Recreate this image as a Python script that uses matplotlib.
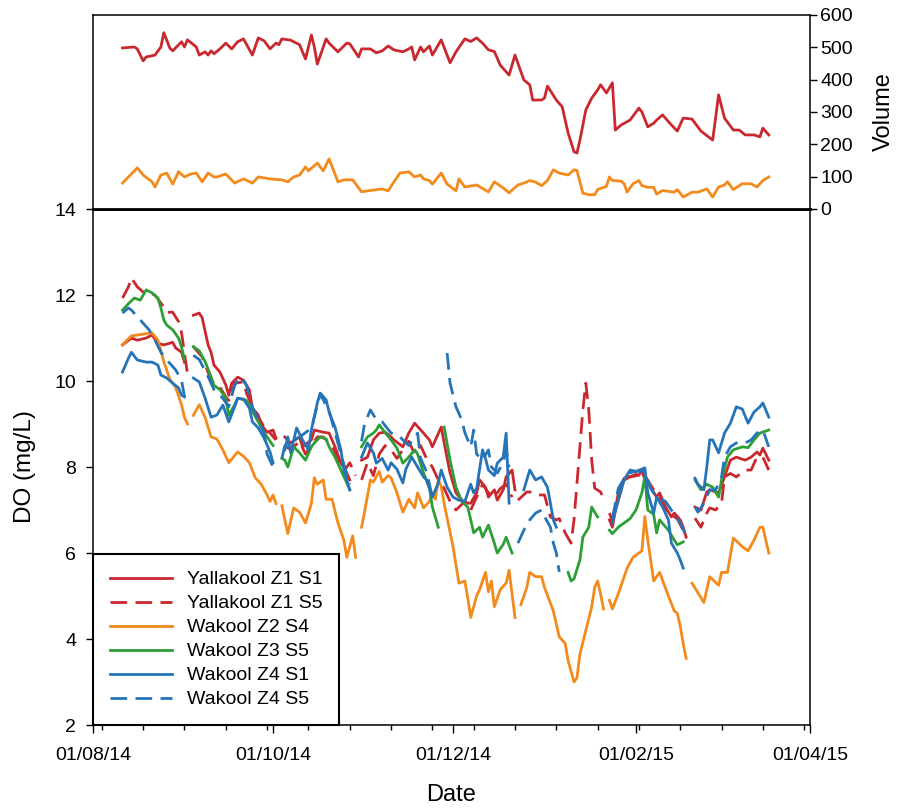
import datetime as dt
import numpy as np
import matplotlib
matplotlib.use("Agg")
import matplotlib.pyplot as plt
import matplotlib.dates as mdates
from matplotlib.ticker import FixedLocator

plt.rcParams['font.family'] = ['Liberation Sans', 'DejaVu Sans']

START = dt.datetime(2014, 8, 1)

# ---- top panel: volume, days since 01/08/14 ----
vol_red_day = [10, 14, 15, 17, 18, 21, 23, 24, 26, 27, 30, 31, 32, 35, 36, 38, 39, 40, 41, 43,
               45, 47, 49, 51, 54, 56, 58, 60, 62, 63, 64, 67, 70, 72, 74, 75, 76, 79, 80, 83,
               86, 87, 90, 91, 94, 96, 98, 100, 102, 105, 107, 108, 109, 111, 112, 114, 115, 118, 121, 123,
               126, 128, 130, 132, 134, 136, 138, 141, 143, 146, 148, 149, 152, 153, 154, 157, 159, 161, 163, 164,
               165, 167, 169, 171, 172, 174, 176, 177, 179, 182, 185, 186, 188, 190, 191, 193, 196, 198, 200, 203,
               206, 210, 212, 214, 217, 219, 221, 224, 226, 227, 229]
vol_red = [498, 501, 495, 458, 470, 476, 501, 545, 498, 489, 517, 501, 523, 501, 476, 486, 476, 489, 480, 495,
           513, 495, 517, 526, 476, 529, 520, 495, 513, 508, 526, 522, 508, 464, 538, 501, 448, 526, 513, 486,
           513, 511, 470, 495, 495, 483, 489, 504, 492, 486, 495, 501, 461, 501, 486, 504, 476, 523, 452, 486,
           526, 518, 529, 513, 492, 487, 445, 414, 476, 399, 384, 337, 337, 343, 380, 337, 316, 235, 177, 173,
           213, 306, 343, 368, 384, 359, 390, 244, 260, 275, 312, 300, 254, 265, 275, 291, 260, 241, 281, 278,
           241, 213, 353, 281, 244, 244, 229, 229, 223, 250, 229]

vol_orange_day = [10, 12, 15, 17, 20, 21, 23, 25, 27, 29, 31, 33, 35, 37, 39, 41, 42, 45, 48, 51,
                  54, 56, 60, 64, 66, 68, 70, 72, 73, 76, 78, 80, 83, 85, 88, 91, 93, 98, 100, 102,
                  104, 107, 109, 111, 112, 114, 115, 118, 120, 123, 124, 126, 130, 134, 136, 139, 141, 144, 146, 148,
                  150, 152, 154, 156, 158, 161, 163, 164, 165, 166, 168, 170, 171, 174, 175, 176, 179, 180, 181, 183,
                  185, 186, 188, 190, 191, 193, 197, 198, 200, 203, 205, 208, 210, 212, 214, 215, 217, 220, 223, 225,
                  227, 229]
vol_orange = [80, 99, 127, 105, 84, 68, 105, 111, 77, 115, 99, 108, 111, 84, 111, 99, 99, 108, 80, 93,
              80, 99, 93, 90, 84, 99, 105, 130, 118, 142, 118, 155, 84, 90, 90, 53, 56, 62, 56, 84,
              111, 115, 99, 105, 93, 88, 77, 111, 77, 56, 93, 68, 74, 53, 84, 65, 50, 74, 80, 88,
              83, 72, 88, 121, 111, 105, 121, 119, 84, 49, 44, 44, 60, 70, 99, 88, 86, 78, 52, 78,
              88, 72, 67, 67, 46, 57, 52, 60, 37, 52, 52, 62, 37, 68, 74, 84, 60, 78, 78, 68,
              88, 99]

# ---- bottom panel: DO (mg/L), days since 01/08/14, None = no data ----
yk_s1_day = [10, 13, 15, 18, 20, 22, 24, 27, 28, 30, 31, None,
             34, 36, 37, 39, 40, 41, 43, 45, 46, 47, 49, 51, 53, 54, 56, 57, 59, 61, 62, None,
             65, 67, 70, 71, 74, 75, 78, 80, 82, 84, 86, 87, None,
             91, 93, 95, 97, 99, 101, 102, 105, 107, 109, 112, 114, 115, 118, 119, 121, 123, 125, 127, 128,
             130, 131, 133, 134, 136, 137, 139, 140, 142, 143, None,
             175, 176, 178, 180, 182, 185, 186, 187, 189, 191, 192, 194, 196, 197, 199, 200, 201, None,
             204, 206, 208, 209, 212, 214, 216, 218, 221, 223, 225, 226, 227, 229]
yk_s1 = [10.84, 11.0, 10.95, 11.0, 11.07, 10.88, 10.84, 10.9, 10.77, 10.67, 10.44, None,
         11.53, 11.58, 11.47, 10.84, 10.67, 10.37, 10.21, 9.91, 9.67, 9.95, 10.09, 10.02, 9.79, 9.37, 9.21, 8.98, 8.81, 8.86, 8.67, None,
         8.7, 8.56, 8.7, 8.47, 8.63, 8.86, 8.81, 8.79, 8.47, 8.09, 7.86, 7.7, None,
         8.16, 8.23, 8.63, 8.79, 8.81, 8.7, 8.63, 8.47, 8.79, 9.02, 8.79, 8.63, 8.47, 8.93, 8.56, 7.86, 7.4, 7.23, 7.16, 7.16,
         7.4, 7.7, 7.53, 7.3, 7.47, 7.23, 7.47, 7.77, 7.93, 7.47, None,
         6.77, 6.6, 7.4, 7.7, 7.77, 7.81, 7.93, 7.7, 7.53, 7.3, 7.4, 7.07, 6.84, 6.93, 6.77, 6.6, 6.37, None,
         7.07, 7.0, 7.42, 7.47, 7.4, 7.77, 8.16, 8.23, 8.16, 8.23, 8.35, 8.28, 8.44, 8.16]

yk_s5_day = [10, 12, 13, 15, 17, 19, 21, 24, 25, 27, 29, 30, 31, 32, None,
             34, 37, 40, 43, 45, 46, 48, 51, 52, 54, 56, 58, 60, 62, None,
             65, 67, 70, 72, 74, 76, 78, 81, 83, 85, 87, 89, None,
             91, 93, 95, 97, 99, 101, 103, 105, 107, 109, 111, 113, 115, 117, 119, 121, 123, 126, 128, 130,
             132, 134, 136, 138, 140, 142, None,
             144, 147, 149, 151, 153, 155, 157, 158, 160, 162, 163, 165, 166, 167, 168, 169, 170, 172, 173, None,
             175, 176, 179, 180, 183, 185, 187, 190, 192, 195, 197, 198, 200, 201, None,
             204, 206, 208, 209, 211, 213, 214, 216, 218, 221, 223, 225, 227, 229]
yk_s5 = [11.93, 12.19, 12.4, 12.19, 12.07, 12.05, 12.0, 11.72, 11.6, 11.6, 11.38, 11.12, 10.65, 10.17, None,
         10.8, 10.56, 10.02, 9.86, 9.63, 9.55, 9.95, 9.98, 9.72, 9.4, 9.16, 8.93, 8.79, 8.63, None,
         8.5, 8.4, 8.6, 8.3, 8.5, 8.7, 8.7, 8.5, 8.2, 7.9, 8.1, 7.8, None,
         7.7, 8.1, 7.8, 8.3, 8.5, 8.4, 8.2, 8.4, 8.6, 8.3, 8.5, 8.2, 8.0, 7.7, 7.5, 7.2, 7.0, 7.2, 7.0, 7.3,
         7.6, 7.4, 7.3, 7.5, 7.6, 7.3, None,
         7.23, 7.42, 7.42, 7.35, 7.35, 6.84, 6.77, 6.8, 6.47, 6.23, 6.77, 8.47, 9.33, 9.95, 9.33, 8.16, 7.51, 7.42, 7.28, None,
         6.93, 6.75, 7.47, 7.74, 7.8, 7.86, 7.8, 7.47, 7.3, 6.93, 6.84, 6.8, 6.53, 6.35, None,
         6.81, 6.6, 6.93, 7.05, 7.0, 7.16, 7.77, 7.85, 7.77, 7.93, 7.93, 8.23, 8.23, 7.93]

wk_z2s4_day = [10, 13, 15, 20, 22, 24, 26, 28, 30, 31, 32, None,
               34, 36, 38, 40, 42, 44, 46, 49, 51, 53, 55, 57, 59, 60, 61, 62, None,
               64, 66, 68, 70, 72, 74, 75, 76, 78, 79, 81, 83, 85, 86, 88, 89, None,
               91, 92, 94, 95, 97, 98, 100, 101, 103, 105, 107, 109, 110, 112, 114, 115, 116, 117, 118, 119,
               122, 124, 126, 127, 128, 130, 131, 133, 134, 135, 136, 138, 140, 141, 142, 143, None,
               145, 147, 148, 150, 152, 153, 156, 158, 160, 161, 163, 164, 165, 167, 169, 170, 171, 172, 173, None,
               175, 176, 178, 180, 181, 183, 185, 186, 187, 188, 190, 192, 195, 197, 198, 199, 200, 201, None,
               203, 207, 209, 212, 213, 215, 217, 220, 222, 224, 226, 227, 229]
wk_z2s4 = [10.85, 11.05, 11.07, 11.12, 10.95, 10.45, 10.05, 9.85, 9.45, 9.15, 9.0, None,
           9.2, 9.45, 9.15, 8.7, 8.65, 8.4, 8.1, 8.35, 8.25, 8.1, 7.75, 7.6, 7.35, 7.2, 7.35, 7.15, None,
           7.1, 6.45, 7.05, 6.95, 6.7, 7.15, 7.75, 7.6, 7.7, 7.25, 7.25, 6.7, 6.3, 5.9, 6.4, 5.9, None,
           6.6, 6.95, 7.7, 7.65, 7.9, 7.65, 7.8, 7.75, 7.4, 6.95, 7.25, 7.05, 7.4, 7.05, 7.2, 7.4, 7.25, 7.7, 7.55, 7.15,
           6.15, 5.3, 5.35, 4.95, 4.5, 5.0, 5.15, 5.55, 5.1, 5.35, 4.75, 5.15, 5.3, 5.6, 5.05, 4.5, None,
           4.8, 5.2, 5.55, 5.45, 5.45, 5.2, 4.65, 4.05, 3.9, 3.5, 3.0, 3.1, 3.65, 4.2, 4.75, 5.2, 5.35, 5.05, 4.7, None,
           4.9, 4.7, 5.05, 5.45, 5.65, 5.9, 6.0, 6.05, 6.85, 6.3, 5.35, 5.55, 5.0, 4.65, 4.6, 4.3, 3.9, 3.55, None,
           5.3, 4.85, 5.45, 5.25, 5.55, 5.55, 6.35, 6.15, 6.05, 6.3, 6.6, 6.6, 6.0]

wk_z3s5_day = [10, 12, 14, 16, 18, 20, 22, 23, 24, 25, 27, 29, 30, 31, None,
               34, 36, 38, 40, 41, 43, 45, 46, 48, 49, 52, 54, 56, 58, 61, None,
               64, 65, 66, 68, 70, 72, 74, 75, 77, 79, 80, 82, 84, 86, 87, None,
               91, 93, 95, 96, 97, 99, 101, 103, 105, 107, 109, 110, 112, 114, 115, 117, None,
               119, 121, 123, 125, 127, 129, 131, 132, 134, 136, 137, 139, 140, 142, None,
               161, 162, 163, 165, 166, 168, 169, 170, 171, None,
               175, 176, 178, 180, 182, 184, 186, 187, 188, 190, 191, 192, 195, 197, 198, 200, None,
               204, 206, 208, 210, 212, 213, 215, 217, 220, 222, 224, 226, 229]
wk_z3s5 = [11.65, 11.8, 11.93, 11.88, 12.12, 12.05, 11.93, 11.7, 11.42, 11.3, 11.19, 11.0, 10.79, 10.5, None,
           10.8, 10.7, 10.45, 10.1, 9.9, 9.8, 9.6, 9.2, 9.45, 9.6, 9.55, 9.3, 9.05, 8.8, 8.5, None,
           8.2, 8.16, 8.0, 8.47, 8.33, 8.16, 8.47, 8.56, 8.7, 8.65, 8.47, 8.23, 7.93, 7.63, 7.47, None,
           8.47, 8.7, 8.79, 8.86, 8.98, 8.8, 8.63, 8.44, 8.09, 8.23, 8.4, 8.3, 7.86, 7.53, 7.07, 6.6, None,
           8.93, 8.16, 7.53, 7.2, 7.07, 6.47, 6.6, 6.37, 6.65, 6.23, 6.0, 6.2, 6.37, 6.0, None,
           5.55, 5.35, 5.4, 5.84, 6.37, 6.6, 7.07, 6.95, 6.84, None,
           6.53, 6.45, 6.6, 6.7, 6.8, 7.0, 7.4, 7.77, 7.0, 6.9, 6.47, 6.77, 6.53, 6.3, 6.19, 6.26, None,
           7.7, 7.47, 7.6, 7.53, 7.3, 7.7, 8.23, 8.4, 8.47, 8.45, 8.63, 8.79, 8.86]

wk_z4s1_day = [10, 12, 13, 15, 18, 20, 22, 23, 25, 27, 29, 30, 31, None,
               34, 36, 38, 40, 42, 44, 46, 48, 49, 51, 53, 54, 56, 58, 60, 61, None,
               65, 66, 67, 69, 71, 73, 74, 76, 77, 79, 80, 82, 84, 85, 87, None,
               91, 93, 95, 96, 98, 100, 101, 103, 105, 106, 108, 110, 112, 113, 115, 117, 118, 120, 122, 124,
               126, 128, 129, 130, 132, 133, 134, 136, 137, 139, 140, 141, None,
               146, 148, 150, 152, 154, 155, 156, 157, None,
               176, 178, 180, 182, 184, 187, 188, 190, 191, 193, 195, 196, 198, 199, 200, None,
               204, 205, 207, 208, 209, 210, 212, 214, 216, 218, 220, 222, 224, 226, 227, 229]
wk_z4s1 = [10.21, 10.53, 10.67, 10.49, 10.44, 10.44, 10.37, 10.14, 10.07, 9.95, 9.84, 9.67, 9.63, None,
           10.07, 9.98, 9.6, 9.16, 9.21, 9.44, 9.05, 9.4, 9.6, 9.58, 9.37, 9.05, 8.91, 8.67, 8.35, 8.1, None,
           8.4, 8.7, 8.33, 8.91, 8.63, 8.4, 8.86, 9.49, 9.72, 9.56, 9.28, 8.93, 8.4, 7.93, 7.47, None,
           8.23, 8.56, 8.33, 8.09, 8.2, 7.93, 8.1, 7.95, 7.63, 7.95, 8.23, 8.0, 7.77, 7.7, 7.3, 7.63, 7.93, 7.53, 7.3, 7.23,
           7.2, 7.6, 7.4, 7.5, 8.4, 8.2, 7.93, 7.8, 8.09, 8.23, 8.79, 7.16, None,
           7.47, 7.93, 7.7, 7.77, 7.53, 7.16, 6.77, 6.6, None,
           6.7, 7.23, 7.7, 7.93, 7.9, 7.98, 7.4, 6.93, 7.3, 7.07, 6.77, 6.23, 6.0, 5.84, 5.65, None,
           7.74, 7.6, 7.47, 8.0, 8.63, 8.63, 8.33, 8.79, 9.02, 9.4, 9.35, 9.02, 9.28, 9.4, 9.49, 9.16]

wk_z4s5_day = [10, 12, 13, 16, 19, 21, 23, 25, 28, 30, 31, None,
               34, 36, 39, 41, 44, 46, 48, 50, 52, 54, 56, 58, 59, 61, None,
               64, 65, 67, 70, 74, 77, 80, 82, 84, 87, None,
               91, 92, 94, 96, 98, 101, 104, 107, 110, 111, 113, 115, None,
               120, 121, 123, 125, 126, 128, 129, 130, 132, 134, 135, 137, 139, 140, 141, None,
               144, 146, 148, 150, 152, 153, 155, 156, 157, 158, None,
               176, 178, 181, 184, 187, 189, 191, 194, 196, 199, 201, None,
               204, 205, 207, 209, 211, 213, 214, 216, 218, 221, 223, 225, 227, 229]
wk_z4s5 = [11.58, 11.7, 11.65, 11.42, 11.19, 10.95, 10.67, 10.49, 10.26, 10.02, 9.63, None,
           10.6, 10.5, 10.1, 9.8, 9.6, 9.4, 9.9, 10.1, 9.9, 9.4, 9.1, 8.8, 8.3, 8.0, None,
           8.2, 8.5, 8.6, 8.7, 8.9, 9.7, 9.3, 8.8, 8.3, 7.6, None,
           8.6, 9.0, 9.33, 9.1, 9.05, 8.79, 8.7, 8.5, 8.79, 8.2, 7.9, 7.3, None,
           10.65, 9.95, 9.4, 9.09, 8.8, 8.47, 8.86, 8.3, 8.16, 8.4, 8.0, 7.86, 8.1, 8.4, 8.0, None,
           6.23, 6.53, 6.77, 6.93, 7.0, 6.85, 6.6, 6.23, 6.0, 5.56, None,
           6.8, 7.5, 7.85, 7.9, 7.9, 7.5, 7.3, 7.2, 7.0, 6.7, 6.4, None,
           7.07, 6.95, 7.16, 7.47, 7.47, 7.77, 8.23, 8.47, 8.56, 8.56, 8.63, 8.79, 8.86, 8.47]

RED = '#c8282e'
ORANGE = '#f28a1c'
GREEN = '#2e9e36'
BLUE = '#2574b8'
DASH = (0, (6, 3))

series = [
    ("Yallakool Z1 S1", yk_s1_day, yk_s1, RED, '-'),
    ("Yallakool Z1 S5", yk_s5_day, yk_s5, RED, DASH),
    ("Wakool Z2 S4", wk_z2s4_day, wk_z2s4, ORANGE, '-'),
    ("Wakool Z3 S5", wk_z3s5_day, wk_z3s5, GREEN, '-'),
    ("Wakool Z4 S1", wk_z4s1_day, wk_z4s1, BLUE, '-'),
    ("Wakool Z4 S5", wk_z4s5_day, wk_z4s5, BLUE, DASH),
]


def to_x(days):
    return mdates.date2num(START) + np.array(days, dtype=float)


fig = plt.figure(figsize=(8.97, 8.09), dpi=100)
ax_do = fig.add_axes([0.1037, 0.1038, 0.7994, 0.6378])
ax_vol = fig.add_axes([0.1037, 0.7417, 0.7994, 0.2398])

xmin = mdates.date2num(dt.datetime(2014, 8, 1))
xmax = mdates.date2num(dt.datetime(2015, 4, 1))
LW = 2.0

# top panel
ax_vol.plot(to_x(vol_red_day), vol_red, color=RED, lw=LW)
ax_vol.plot(to_x(vol_orange_day), vol_orange, color=ORANGE, lw=LW)
ax_vol.set_xlim(xmin, xmax)
ax_vol.set_ylim(0, 600)
ax_vol.yaxis.tick_right()
ax_vol.yaxis.set_label_position('right')
ax_vol.set_yticks(range(0, 601, 100))
ax_vol.tick_params(axis='y', direction='out', length=5, width=1, pad=2.5, labelsize=14)
ax_vol.tick_params(axis='x', bottom=False, labelbottom=False)
ax_vol.set_ylabel('Volume', fontsize=17, labelpad=14)
for s in ax_vol.spines.values():
    s.set_linewidth(1.1)
ax_vol.spines['bottom'].set_linewidth(2.0)

# bottom panel
for label, d, v, c, ls in series:
    ax_do.plot(to_x(d), np.array(v, dtype=float), color=c, lw=LW, linestyle=ls, label=label)

ax_do.set_xlim(xmin, xmax)
ax_do.set_ylim(2, 14)
ax_do.set_yticks(range(2, 15, 2))
major = [dt.datetime(2014, 8, 1), dt.datetime(2014, 10, 1), dt.datetime(2014, 12, 1),
         dt.datetime(2015, 2, 1), dt.datetime(2015, 4, 1)]
ax_do.xaxis.set_major_locator(FixedLocator(mdates.date2num(major)))
ax_do.xaxis.set_major_formatter(mdates.DateFormatter('%d/%m/%y'))
minor = [dt.datetime(2014, 8, 4) + dt.timedelta(days=14 * i) for i in range(18)]
ax_do.xaxis.set_minor_locator(FixedLocator(mdates.date2num(minor)))
ax_do.tick_params(axis='x', which='major', direction='out', length=6, width=1, pad=10, labelsize=14)
ax_do.tick_params(axis='x', which='minor', direction='out', length=3.5, width=1)
ax_do.tick_params(axis='y', direction='out', length=5, width=1, pad=7, labelsize=14)
ax_do.set_xlabel('Date', fontsize=17, labelpad=14)
ax_do.set_ylabel('DO (mg/L)', fontsize=17.5, labelpad=13)
for s in ax_do.spines.values():
    s.set_linewidth(1.1)
ax_do.spines['top'].set_linewidth(2.0)

leg = ax_do.legend(loc='lower left', bbox_to_anchor=(0, 0), borderaxespad=0, fancybox=False,
                   framealpha=1, edgecolor='black', fontsize=14, handlelength=3.2,
                   handletextpad=0.8, labelspacing=0.33, borderpad=0.85)
leg.get_frame().set_linewidth(1.5)

fig.savefig('out.png', dpi=100)
